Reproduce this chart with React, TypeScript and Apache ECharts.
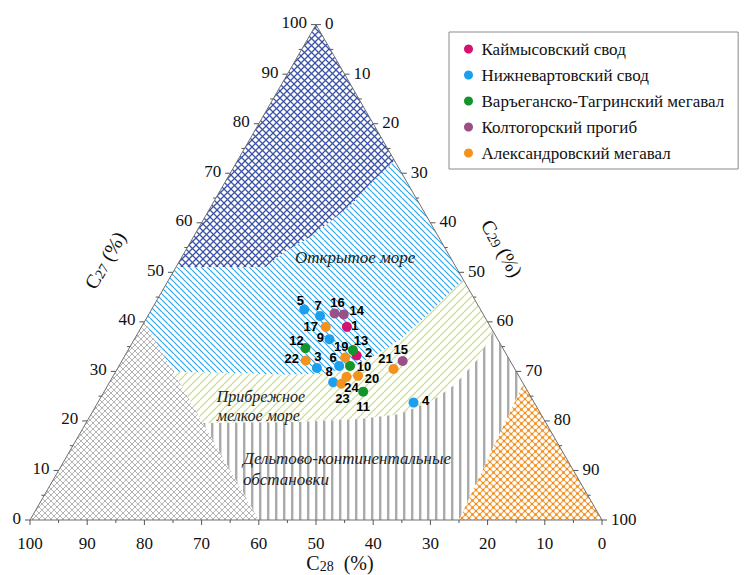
import React, { useEffect, useRef } from 'react';
import * as echarts from 'echarts';

// ---------- data (ternary: [id, C27, C28, C29]) ----------
const seriesNames = [
  'Каймысовский свод',
  'Нижневартовский свод',
  'Варъеганско-Тагринский мегавал',
  'Колтогорский прогиб',
  'Александровский мегавал',
];
const seriesColors = ['#d4126f', '#1d9ff0', '#13952c', '#9a4f87', '#f3921f'];

const kaimysov = [
  [1, 39.0, 25.1, 35.9],
  [2, 33.2, 26.3, 40.5],
];
const nizhnevartov = [
  [3, 30.7, 34.5, 34.8],
  [4, 23.7, 21.1, 55.2],
  [5, 42.5, 30.8, 26.7],
  [6, 31.1, 30.4, 38.5],
  [7, 41.2, 28.7, 30.1],
  [8, 27.8, 33.1, 39.1],
  [9, 36.5, 29.4, 34.1],
];
const varyegan = [
  [10, 31.1, 28.5, 40.4],
  [11, 25.9, 28.8, 45.3],
  [12, 34.7, 34.5, 30.8],
  [13, 34.3, 26.4, 39.3],
];
const koltogor = [
  [14, 41.5, 24.4, 34.1],
  [15, 32.1, 18.8, 49.1],
  [16, 41.7, 25.9, 32.4],
];
const aleksandrov = [
  [17, 39.0, 28.8, 32.2],
  [19, 32.8, 28.5, 38.7],
  [20, 29.1, 28.1, 42.8],
  [21, 30.5, 21.2, 48.3],
  [22, 32.2, 35.7, 32.1],
  [23, 27.5, 31.8, 40.7],
  [24, 28.9, 30.2, 40.9],
];
const groups = [kaimysov, nizhnevartov, varyegan, koltogor, aleksandrov];

// field boundaries (ternary [C27, C28, C29]), left to right
const boundaryDeep = [
  [51, 33.4, 15.6], [54.1, 28.4, 17.5], [57.1, 22.5, 20.4], [60.2, 17.4, 22.4],
  [63.8, 11.8, 24.4], [68.2, 6.1, 25.7], [71.3, 1.7, 27.0], [72.5, 0, 27.5],
];
const boundaryOpen = [
  [29.9, 60, 10.1], [29.7, 50.2, 20.1], [29.3, 41.1, 29.6], [29.5, 33.3, 37.2],
  [32.3, 24.9, 42.8], [36.3, 17.2, 46.5], [42.4, 8.4, 49.2], [48.5, 0, 51.5],
];
const boundaryShallow = [
  [19.6, 60, 20.4], [19.8, 42.9, 37.3], [20.4, 32.1, 47.5], [21.4, 24.6, 54.0],
  [24.2, 17.4, 58.4], [27.3, 12.1, 60.6], [32.3, 5.7, 62.0], [38, 0, 62],
];
const orangeField = [[27.5, 0, 72.5], [0, 25, 75], [0, 0, 100]];
const grayField = [[0, 100, 0], [40, 60, 0], [0, 60, 40]];

const majorTicks = [0, 10, 20, 30, 40, 50, 60, 70, 80, 90, 100];
const minorTicks = [5, 15, 25, 35, 45, 55, 65, 75, 85, 95];

const fieldLabels = [
  { text: 'Открытое море', at: [52.9, 16.7, 30.4], align: 'center', size: 17, lh: 18 },
  { text: 'Прибрежное\nмелкое море', at: [23.1, 55.8, 21.1], align: 'left', size: 16, lh: 19 },
  { text: 'Дельтово-континентальные\nобстановки', at: [10.3, 57.6, 32.1], align: 'left', size: 17, lh: 21 },
];

const labelOffsets: Record<number, [number, number]> = {
  1: [8, -1], 2: [12, -3], 3: [1, -11], 4: [12, -2], 5: [-4, -9], 6: [-6, -8],
  7: [-2, -10], 8: [-4, -11], 9: [-9, -2], 10: [14, 1], 11: [0, 15], 12: [-9, -8],
  13: [8, -10], 14: [13, -4], 15: [-2, -11], 16: [3, -11], 17: [-15, 0], 19: [-4, -11],
  20: [14, 3], 21: [-8, -10], 22: [-14, -2], 23: [1, 15], 24: [5, 11],
};

// ---------- helpers ----------
const H = Math.sqrt(3) / 2;
function toXY(a: number, b: number, c: number): [number, number] {
  const s = a + b + c;
  const A = a / s;
  const C = c / s;
  return [(C + A / 2) * 100, A * H * 100];
}

const SERIF = 'Liberation Serif';
const SANS = 'Liberation Sans';

function makeTile(w: number, h: number, draw: (ctx: CanvasRenderingContext2D) => void) {
  const cv = document.createElement('canvas');
  cv.width = w;
  cv.height = h;
  const ctx = cv.getContext('2d') as CanvasRenderingContext2D;
  ctx.fillStyle = '#ffffff';
  ctx.fillRect(0, 0, w, h);
  draw(ctx);
  return { image: cv, repeat: 'repeat', imageWidth: w, imageHeight: h };
}
function diag(ctx: CanvasRenderingContext2D, s: number, dir: string) {
  ctx.beginPath();
  for (const k of [-1, 0, 1]) {
    if (dir === '/') {
      ctx.moveTo(k * s, s);
      ctx.lineTo(k * s + s, 0);
    } else {
      ctx.moveTo(k * s, 0);
      ctx.lineTo(k * s + s, s);
    }
  }
  ctx.stroke();
}

function buildOption() {
  const deep = makeTile(7, 7, (ctx) => {
    ctx.strokeStyle = '#3a52a8';
    ctx.lineWidth = 1.25;
    diag(ctx, 7, '/');
    diag(ctx, 7, '\\');
  });
  const open = makeTile(6, 6, (ctx) => {
    ctx.strokeStyle = '#2ca6ea';
    ctx.lineWidth = 1.2;
    diag(ctx, 6, '\\');
  });
  const shallow = makeTile(8, 8, (ctx) => {
    ctx.strokeStyle = '#cfdd98';
    ctx.lineWidth = 1.3;
    diag(ctx, 8, '/');
  });
  const delta = makeTile(8, 8, (ctx) => {
    ctx.fillStyle = '#ababab';
    ctx.fillRect(3, 0, 2.4, 8);
  });
  const grayHatch = makeTile(6, 6, (ctx) => {
    ctx.strokeStyle = '#ababab';
    ctx.lineWidth = 0.9;
    diag(ctx, 6, '/');
    diag(ctx, 6, '\\');
  });
  const orange = makeTile(7, 7, (ctx) => {
    ctx.strokeStyle = '#f4a748';
    ctx.lineWidth = 1.2;
    diag(ctx, 7, '/');
    diag(ctx, 7, '\\');
    ctx.fillStyle = '#f08d1c';
    for (const [x, y] of [[0, 0], [7, 0], [0, 7], [7, 7], [3.5, 3.5]]) {
      ctx.beginPath();
      ctx.arc(x, y, 1.2, 0, Math.PI * 2);
      ctx.fill();
    }
  });

  const rev = (arr: number[][]) => arr.slice().reverse();
  const regions = [
    { fill: deep, poly: [[100, 0, 0], [51, 49, 0], ...boundaryDeep] },
    {
      fill: open,
      poly: [[51, 49, 0], [40, 60, 0], ...boundaryOpen, ...rev(boundaryDeep)],
    },
    { fill: shallow, poly: [...boundaryShallow, ...rev(boundaryOpen)] },
    { fill: delta, poly: [[0, 60, 40], [0, 25, 75], [27.5, 0, 72.5], ...rev(boundaryShallow)] },
    { fill: grayHatch, poly: grayField },
    { fill: orange, poly: orangeField },
  ];

  const regionSeries = {
    type: 'custom',
    coordinateSystem: 'cartesian2d',
    silent: true,
    clip: false,
    z: 1,
    data: regions.map(() => [50, 40]),
    renderItem: (params: any, api: any) => {
      const r = regions[params.dataIndex];
      const pts = r.poly.map((t) => api.coord(toXY(t[0], t[1], t[2])));
      return { type: 'polygon', shape: { points: pts }, style: { fill: r.fill, stroke: null } };
    },
  };

  const frameSeries = {
    type: 'custom',
    coordinateSystem: 'cartesian2d',
    silent: true,
    clip: false,
    z: 2,
    data: [[50, 40]],
    renderItem: (_params: any, api: any) => {
      const P = (a: number, b: number, c: number) => api.coord(toXY(a, b, c));
      const children: any[] = [];
      const tri = [P(100, 0, 0), P(0, 100, 0), P(0, 0, 100)];
      children.push({
        type: 'polygon',
        shape: { points: tri },
        style: { fill: null, stroke: '#707070', lineWidth: 1 },
      });
      const tickStyle = { stroke: '#555', lineWidth: 1 };
      const addTicks = (vals: number[], len: number) => {
        vals.forEach((v) => {
          const pb = P(0, v, 100 - v);
          children.push({ type: 'line', shape: { x1: pb[0], y1: pb[1], x2: pb[0], y2: pb[1] + len }, style: tickStyle });
          const pl = P(v, 100 - v, 0);
          children.push({ type: 'line', shape: { x1: pl[0], y1: pl[1], x2: pl[0] - len, y2: pl[1] }, style: tickStyle });
          const pr = P(100 - v, 0, v);
          children.push({ type: 'line', shape: { x1: pr[0], y1: pr[1], x2: pr[0] + len, y2: pr[1] }, style: tickStyle });
        });
      };
      addTicks(majorTicks, 5);
      addTicks(minorTicks, 3);
      const lbl = (text: string, x: number, y: number, align: string) => ({
        type: 'text',
        x,
        y,
        style: { text, fill: '#111', fontSize: 17, fontFamily: SERIF, align, verticalAlign: 'middle' },
      });
      majorTicks.forEach((v) => {
        const pb = P(0, v, 100 - v);
        children.push(lbl(String(v), pb[0], pb[1] + 23, 'center'));
        const pl = P(v, 100 - v, 0);
        children.push(lbl(String(v), pl[0] - 9, pl[1] - 2, 'right'));
        const pr = P(100 - v, 0, v);
        children.push(lbl(String(v), pr[0] + 9, pr[1] - 1, 'left'));
      });
      // axis titles
      const rich = {
        b: { fontSize: 20, fontFamily: SERIF, fill: '#111', verticalAlign: 'bottom' },
        s: { fontSize: 14, fontFamily: SERIF, fill: '#111', verticalAlign: 'bottom' },
      };
      const pL = P(50, 50, 0);
      children.push({
        type: 'text',
        x: pL[0] - 68,
        y: pL[1] - 12,
        rotation: Math.PI / 3,
        style: { text: '{b|C}{s|27}{b| (%)}', rich, align: 'center', verticalAlign: 'middle' },
      });
      const pR = P(50, 0, 50);
      children.push({
        type: 'text',
        x: pR[0] + 43,
        y: pR[1] - 24,
        rotation: -Math.PI / 3,
        style: { text: '{b|C}{s|29}{b| (%)}', rich, align: 'center', verticalAlign: 'middle' },
      });
      const pB = P(0, 50, 50);
      children.push({
        type: 'text',
        x: pB[0] + 24,
        y: pB[1] + 43,
        style: { text: '{b|C}{s|28}{b|  (%)}', rich, align: 'center', verticalAlign: 'middle' },
      });
      // field labels
      fieldLabels.forEach((f) => {
        const p = P(f.at[0], f.at[1], f.at[2]);
        children.push({
          type: 'text',
          x: p[0],
          y: p[1],
          style: {
            text: f.text,
            fill: '#222',
            fontSize: f.size,
            lineHeight: f.lh,
            fontStyle: 'italic',
            fontFamily: SERIF,
            align: f.align,
            verticalAlign: 'middle',
          },
        });
      });
      return { type: 'group', children };
    },
  };

  const scatterSeries = groups.map((g, i) => ({
    type: 'scatter',
    name: seriesNames[i],
    z: 3,
    symbol: 'circle',
    symbolSize: 10,
    itemStyle: { color: seriesColors[i], opacity: 1 },
    label: {
      show: true,
      position: 'inside',
      formatter: '{b}',
      color: '#000',
      fontWeight: 'bold',
      fontSize: 13,
      fontFamily: SANS,
    },
    data: g.map((p) => ({
      name: String(p[0]),
      value: toXY(p[1], p[2], p[3]),
      label: { offset: labelOffsets[p[0]] },
    })),
  }));

  return {
    animation: false,
    backgroundColor: '#ffffff',
    grid: { left: 30, right: 144, top: 24.64, bottom: 55 },
    xAxis: { type: 'value', min: 0, max: 100, show: false },
    yAxis: { type: 'value', min: 0, max: 50 * Math.sqrt(3), show: false },
    legend: {
      orient: 'vertical',
      left: 449,
      top: 32,
      padding: [8, 14, 7, 15],
      itemWidth: 16,
      itemHeight: 9,
      itemGap: 8,
      icon: 'circle',
      borderColor: '#8a8a8a',
      borderWidth: 1,
      data: seriesNames,
      textStyle: { fontFamily: SERIF, fontSize: 17, color: '#111', lineHeight: 18 },
    },
    series: [regionSeries, frameSeries, ...scatterSeries],
  };
}

export default function App() {
  const ref = useRef<HTMLDivElement>(null);
  useEffect(() => {
    if (!ref.current) return;
    const chart = echarts.init(ref.current, null, { renderer: 'svg' });
    chart.setOption(buildOption() as any);
    return () => chart.dispose();
  }, []);
  return (
    <div
      ref={ref}
      style={{ position: 'absolute', left: 0, top: 0, width: 746, height: 575, background: '#fff' }}
    />
  );
}
